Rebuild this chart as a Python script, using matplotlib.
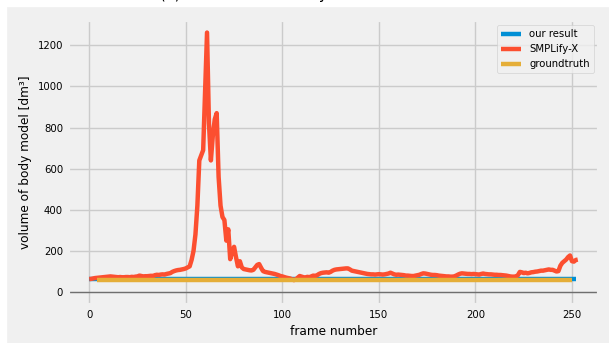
import matplotlib
matplotlib.use('Agg')
import matplotlib.pyplot as plt
from matplotlib.patches import Rectangle

# volume per frame of the fitted body models
smplify_x = [
    63, 64, 66, 68, 69, 70, 71, 72, 73, 74,
    75, 76, 75, 74, 73, 72, 73, 72, 72, 73,
    73, 72, 74, 73, 75, 76, 80, 78, 76, 77,
    77, 78, 79, 78, 82, 84, 83, 85, 86, 85,
    88, 90, 92, 98, 102, 105, 107, 108, 110, 112,
    115, 120, 125, 156, 200, 280, 420, 640, 665, 690,
    980, 1262, 820, 640, 760, 840, 870, 560, 420, 365,
    350, 250, 305, 160, 195, 220, 170, 125, 150, 120,
    112, 110, 108, 106, 105, 108, 120, 132, 136, 118,
    102, 98, 96, 94, 92, 90, 88, 85, 82, 78,
    76, 73, 70, 68, 66, 62, 58, 62, 70, 78,
    75, 72, 71, 74, 72, 76, 80, 78, 82, 88,
    92, 94, 95, 96, 94, 98, 104, 108, 110, 111,
    112, 113, 114, 115, 115, 110, 104, 102, 100, 98,
    96, 94, 92, 90, 88, 87, 86, 86, 85, 86,
    87, 86, 85, 86, 88, 90, 94, 90, 86, 84,
    85, 84, 83, 82, 80, 80, 79, 78, 78, 80,
    82, 84, 88, 91, 90, 88, 86, 84, 83, 83,
    82, 80, 79, 78, 77, 76, 76, 75, 75, 76,
    80, 85, 89, 91, 90, 89, 88, 88, 87, 88,
    87, 86, 85, 88, 90, 88, 87, 86, 86, 85,
    84, 84, 83, 83, 82, 81, 80, 78, 76, 75,
    75, 76, 82, 98, 96, 92, 94, 91, 93, 96,
    97, 99, 100, 102, 104, 104, 106, 108, 110, 108,
    108, 104, 100, 102, 128, 142, 150, 158, 170, 178,
    150, 148, 156, 158,
]
frames_smplify = list(range(len(smplify_x)))

our_value = 64
our_frames = list(range(0, 253))
our_result = [our_value] * len(our_frames)

gt_value = 61
gt_frames = list(range(4, 251))
groundtruth = [gt_value] * len(gt_frames)

plt.style.use('fivethirtyeight')
plt.rcParams['font.size'] = 7.3

fig = plt.figure(figsize=(6.09, 3.43), dpi=100, facecolor='white')
# grey page behind the plot, leaving a thin white strip top and left
fig.patches.append(Rectangle((7 / 609, 0), 1, (343 - 7) / 343,
                             transform=fig.transFigure, color='#f0f0f0', zorder=-10))

ax = fig.add_axes([68 / 609, 38 / 343, 531 / 609, 285 / 343])

ax.plot(our_frames, our_result, label='our result', linewidth=3.2)
ax.plot(frames_smplify, smplify_x, label='SMPLify-X', linewidth=3.2)
ax.plot(gt_frames, groundtruth, label='groundtruth', linewidth=3.2)
ax.axhline(y=0, color='black', linewidth=1.0, alpha=0.45)

ax.set_xlim(-11, 264)
ax.set_ylim(-63, 1323)
ax.set_xticks([0, 50, 100, 150, 200, 250])
ax.set_yticks([0, 200, 400, 600, 800, 1000, 1200])
ax.set_xlabel('frame number')
ax.set_ylabel('volume of body model [dm³]')
ax.legend(loc='upper right')

fig.text(160 / 609, 343.5 / 343, '(a) Volume of the body model over time',
         fontsize='x-large', ha='left', va='baseline')

fig.savefig('out.png', dpi=100, facecolor=fig.get_facecolor())
